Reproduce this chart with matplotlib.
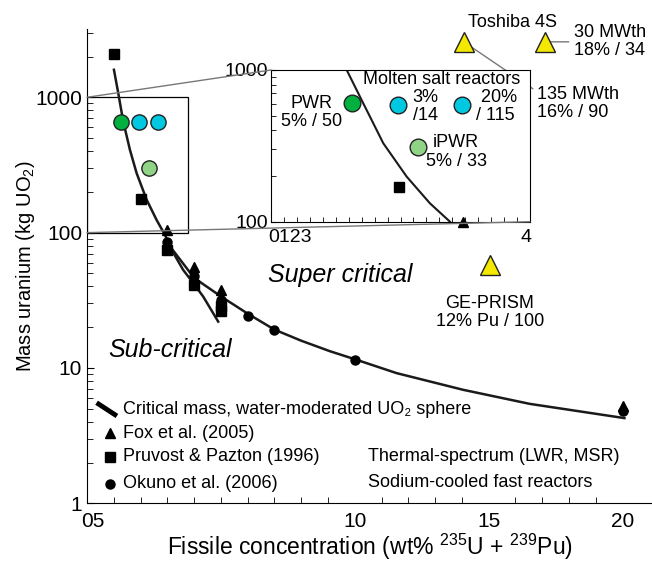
import numpy as np
import matplotlib
matplotlib.use("Agg")
from matplotlib import pyplot as plt
from matplotlib.patches import Rectangle, ConnectionPatch
from matplotlib.ticker import FixedLocator, NullFormatter

plt.rcParams['font.family'] = ['Liberation Sans', 'DejaVu Sans']
plt.rcParams['mathtext.fontset'] = 'custom'
plt.rcParams['mathtext.rm'] = 'Liberation Sans'

#%% data
# critical mass curves
crit_x = [1.007, 1.168, 1.354, 1.604, 1.854, 2.228, 2.60, 2.91, 3.16, 3.59, 3.97, 4.34, 4.90]
crit_y = [1597, 1074, 663, 409, 275, 175, 124, 96.4, 74.6, 53.1, 42.3, 33.7, 22.0]
fit_x = [3.0, 4.0, 5.0, 6.0, 7.0, 8.0, 9.07, 10.06, 11.56, 14.04, 16.53, 20.07]
fit_y = [84, 46.3, 33.8, 25.2, 19.2, 15.9, 13.3, 11.5, 9.16, 6.9, 5.43, 4.26]

# reference calculations
fox_x = [3, 4, 5, 20]
fox_y = [105, 56, 37.5, 5.2]
pruvost_x = [1.0, 2.0, 3, 4, 5, 5]
pruvost_y = [2086, 177, 74, 41, 28.5, 26.5]
okuno_x = [3, 4, 5, 6, 7, 10, 20]
okuno_y = [85, 47.5, 32, 24, 19.2, 11.4, 4.8]

# reactors, main axes
pwr_x, pwr_y = [1.27], [656]
msr_x, msr_y = [1.94, 2.65], [656, 656]
ipwr_x, ipwr_y = [2.31], [301]
sfr_x = [14.07, 17.09, 15.04]
sfr_y = [2570, 2570, 58]

# inset (zoom of the low-enrichment corner)
in_crit_x = [1.169, 1.425, 1.734, 2.096, 2.456, 2.764]
in_crit_y = [1000, 603, 329, 198, 132, 100]
in_pwr_x, in_pwr_y = [1.25], [603]
in_msr_x, in_msr_y = [1.96, 2.95], [588, 588]
in_ipwr_x, in_ipwr_y = [2.27], [312]
in_sq_x, in_sq_y = [1.98], [170]
in_tri_x, in_tri_y = [2.97], [100]

PWR_GREEN = '#00b140'
MSR_CYAN = '#00c8e0'
IPWR_GREEN = '#8fd485'
SFR_YELLOW = '#f5e800'

#%% main figure
fig = plt.figure(figsize=(6.52, 5.61), dpi=100)
ax = fig.add_axes([0.1334, 0.1029, 0.8666, 0.8455])
ax.set_yscale('log')
ax.set_xlim(0, 21.1)
ax.set_ylim(1, 3200)
ax.spines['top'].set_visible(False)
ax.spines['right'].set_visible(False)

ax.xaxis.set_major_locator(FixedLocator([0.2, 10, 15, 20]))
ax.set_xticklabels(['05', '10', '15', '20'])
ax.xaxis.set_minor_locator(FixedLocator(np.arange(1, 21)))
ax.tick_params(axis='x', which='major', length=0, labelsize=15, pad=6)
ax.tick_params(axis='x', which='minor', direction='in', length=4)
ax.tick_params(axis='y', which='both', direction='in', labelsize=15)
ax.tick_params(axis='y', which='major', length=5)
ax.tick_params(axis='y', which='minor', length=4)
ax.set_yticks([1, 10, 100, 1000])
ax.set_yticklabels(['1', '10', '100', '1000'])
ax.yaxis.set_minor_formatter(NullFormatter())

ax.set_xlabel(r'Fissile concentration (wt% $^{235}$U + $^{239}$Pu)', fontsize=16.5, labelpad=1)
ax.set_ylabel(r'Mass uranium (kg UO$_2$)', fontsize=14.5)
ax.yaxis.set_label_coords(-0.088, 0.5)

ax.plot(crit_x, crit_y, color='#1a1a1a', lw=1.8)
ax.plot(fit_x, fit_y, color='#1a1a1a', lw=1.8)
ax.plot(fox_x, fox_y, '^', color='k', ms=7)
ax.plot(pruvost_x, pruvost_y, 's', color='k', ms=6.5)
ax.plot(okuno_x, okuno_y, 'o', color='k', ms=6.5)

ax.plot(pwr_x, pwr_y, 'o', mfc=PWR_GREEN, mec='#222', ms=11, zorder=5)
ax.plot(msr_x, msr_y, 'o', mfc=MSR_CYAN, mec='#222', ms=11, zorder=5)
ax.plot(ipwr_x, ipwr_y, 'o', mfc=IPWR_GREEN, mec='#222', ms=11, zorder=5)
ax.plot(sfr_x, sfr_y, '^', mfc=SFR_YELLOW, mec='#222', ms=14, zorder=5, clip_on=False)

# zoom rectangle
ax.add_patch(Rectangle((0, 100), 3.77, 900, fill=False, ec='k', lw=0.9))

# annotations
ax.text(15.9, 3557, 'Toshiba 4S', fontsize=13, ha='center', va='center')
ax.annotate('135 MWth\n16% / 90', xy=(sfr_x[0], sfr_y[0]), xytext=(16.8, 895),
            fontsize=13, ha='left', va='center', linespacing=1.1,
            arrowprops=dict(arrowstyle='-', color='#777', lw=1, relpos=(0, 0.85), shrinkA=1, shrinkB=0))
ax.annotate('30 MWth\n18% / 34', xy=(sfr_x[1], sfr_y[1]), xytext=(18.2, 2570),
            fontsize=13, ha='left', va='center', linespacing=1.1,
            arrowprops=dict(arrowstyle='-', color='#777', lw=1, relpos=(0, 0.5), shrinkA=2, shrinkB=0))
ax.text(15.04, 25.8, 'GE-PRISM\n12% Pu / 100', fontsize=13, ha='center', va='center', linespacing=1.1)

ax.text(6.75, 49, 'Super critical', fontsize=18, style='italic', ha='left', va='center')
ax.text(0.78, 13.6, 'Sub-critical', fontsize=18, style='italic', ha='left', va='center')

# hand-made legend
tr = ax.transAxes
ax.plot([0.017, 0.053], [0.212, 0.184], color='k', lw=3.5, transform=tr, solid_capstyle='butt')
ax.plot([0.041], [0.148], '^', color='k', ms=7, transform=tr)
ax.plot([0.041], [0.098], 's', color='k', ms=6.5, transform=tr)
ax.plot([0.041], [0.041], 'o', color='k', ms=6.5, transform=tr)
leg_txt = ['Critical mass, water-moderated UO\u2082 sphere', 'Fox et al. (2005)',
           'Pruvost & Pazton (1996)', 'Okuno et al. (2006)']
for txt, yy in zip(leg_txt, [0.197, 0.148, 0.098, 0.041]):
    ax.text(0.064, yy, txt, fontsize=13, ha='left', va='center', transform=tr)
ax.text(0.497, 0.098, 'Thermal-spectrum (LWR, MSR)', fontsize=13, ha='left', va='center', transform=tr)
ax.text(0.497, 0.043, 'Sodium-cooled fast reactors', fontsize=13, ha='left', va='center', transform=tr)

#%% inset
axi = fig.add_axes([271 / 652, 1 - 221.7 / 561, (530 - 271) / 652, (221.7 - 70) / 561])
axi.set_yscale('log')
axi.set_xlim(0, 4)
axi.set_ylim(100, 1000)
axi.set_yticks([100, 1000])
axi.set_yticklabels(['100', '1000'])
axi.yaxis.set_minor_formatter(NullFormatter())
axi.xaxis.set_major_locator(FixedLocator([0.3, 3.94]))
axi.set_xticklabels(['0123', '4'])
axi.xaxis.set_minor_locator(FixedLocator(np.arange(0.2, 4.0, 0.2)))
axi.tick_params(axis='x', which='major', length=0, labelsize=14, pad=5)
axi.tick_params(axis='x', which='minor', direction='in', length=3.5)
axi.tick_params(axis='y', which='both', direction='in', labelsize=14, length=3.5, pad=2)

axi.plot(in_crit_x, in_crit_y, color='#1a1a1a', lw=1.5)
axi.plot(in_sq_x, in_sq_y, 's', color='k', ms=6.5)
axi.plot(in_tri_x, in_tri_y, '^', color='k', ms=7, clip_on=False, zorder=5)
axi.plot(in_pwr_x, in_pwr_y, 'o', mfc=PWR_GREEN, mec='#222', ms=12, zorder=5)
axi.plot(in_msr_x, in_msr_y, 'o', mfc=MSR_CYAN, mec='#222', ms=12, zorder=5)
axi.plot(in_ipwr_x, in_ipwr_y, 'o', mfc=IPWR_GREEN, mec='#222', ms=12, zorder=5)

axi.text(1.42, 871, 'Molten salt reactors', fontsize=13, ha='left', va='center')
axi.text(2.19, 574, '3%\n/14', fontsize=13, ha='left', va='center', linespacing=1.1)
axi.text(3.17, 574, ' 20%\n/ 115', fontsize=13, ha='left', va='center', linespacing=1.1)
axi.text(0.63, 525, 'PWR\n5% / 50', fontsize=13, ha='center', va='center', linespacing=1.1)
axi.text(2.86, 288, 'iPWR\n5% / 33', fontsize=13, ha='center', va='center', linespacing=1.1)

# connector lines between the zoom box and the inset
for xa, ya, xb, yb in [(0, 1000, 0, 1000), (0, 100, 4, 100)]:
    con = ConnectionPatch(xyA=(xa, ya), coordsA=ax.transData, xyB=(xb, yb), coordsB=axi.transData,
                          color='#777', lw=1)
    fig.add_artist(con)

fig.savefig('out.png', dpi=100)
